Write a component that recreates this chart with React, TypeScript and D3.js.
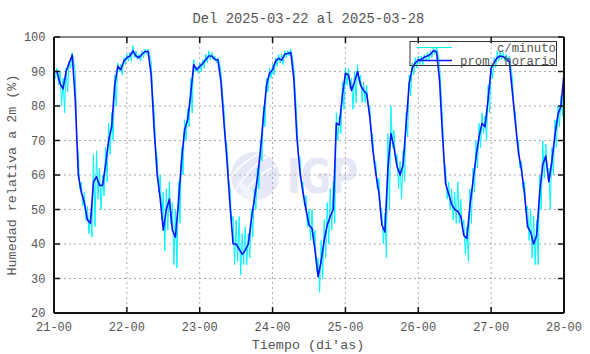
import { useRef, useEffect } from "react";
import * as d3 from "d3";

// promedio horario (%), una lista por dia, 24 valores cada una
const prom21 = [90,90,86.5,85,90,92.5,94.8,82,60,55,52,47,46,58,59.5,57,57,63,70,74,86,91.5,90.5,93];
const prom22 = [94,94.5,96,94.5,94,95,95.8,95.8,89,73,60,53,44,50,53,44,42,52,64,73,76,83,92,90.5];
const prom23 = [91.5,92.3,93.5,94.5,94.5,93.5,93.3,87,75,64,51,40,40,38.5,37,38.2,40,47,53,59,67,77,86,89.5];
const prom24 = [90.5,93,93.8,93.3,95,95.2,95.5,88,71,61,55,50,45.5,44.5,38,30.5,35,41,45.5,48,50,75,74.5,83];
const prom25 = [89.5,89,84.5,87,90,86,84.5,83.5,77,67.6,60.5,55,45.5,43.5,62,72,68,62.5,60,63,75,86.5,91,92.5];
const prom26 = [93.3,93.5,94.2,94.5,95,96,95.8,87.5,71,57.5,54.5,51.5,50,49.5,48,42.5,41.6,51,58,65,71,75,74,82];
const prom27 = [91,92.6,94,94.5,94.3,93.6,92.8,84,75,66.5,61.4,54.5,45,43.5,40,42.5,55,63,65.5,58,64,71.5,77.5,80];
const prom28 = [89.5];

// datos por minuto: maximo y minimo de cada hora (%)
const maxMin21 = [91,91,90,88,91,93,95.5,90,66,58,55,51,49,66,67,62,60,68,75,78,89,92.5,92,94];
const minMin21 = [88,86,80,78,84,91,93,70,56,51,47,43,42,45,53,50,54,58,66,70,80,90,89,92];
const maxMin22 = [95,95.5,97.5,96,95,96,96.5,96.5,93,78,65,60,55,56,58,52,50,58,68,76,79,88,93.5,91.5];
const minMin22 = [93,93,94,93.5,93,94,95,95,84,68,55,47,38,44,46,34,33,46,60,70,74,78,90,89.5];
const maxMin23 = [92.5,93.5,95,96,95.5,94.5,94,90,79,68,56,48,47,48,43,45,43,50,56,62,70,80,88,91];
const minMin23 = [90,91,92.5,93.5,93.5,92.5,92.5,84,71,59,46,34,35,31,34,34,36,42,50,56,64,74,84,88];
const maxMin24 = [92,94,95,95,96,96,96.5,91,76,65,58,54,50,50,44,36,41,47,52,56,58,78,77,87];
const minMin24 = [89,91.5,92.5,92,94,94.5,94.5,84,66,57,51,45,41,40,32,26,30,36,40,44,46,70,72,79];
const maxMin25 = [91,91,88,90,92,89,87,86,80,71,64,59,50,49,72,80,73,66,64,67,78,89,92.5,94];
const minMin25 = [86,85,79,81,87,81,81,80,73,63,56,51,40,36,50,68,64,56,53,58,71,83,89,91];
const maxMin26 = [94.5,94.5,95,95.5,96,97,97,92,76,62,58,56,55,58,53,47,45,56,62,70,75,78,77,86];
const minMin26 = [92,92,93,93.5,94,95,95,84,64,53,50,47,46,46,44,37,35,46,55,62,68,72,70,78];
const maxMin27 = [92,94,96,96,95.5,95,94.5,88,78,70,64,58,51,50,48,47,60,70,69,62,68,76,80,83];
const minMin27 = [88,91,93,93.5,93,93,91.5,80,70,62,56,49,41,36,34,34,50,59,61,50,60,68,74,77];
const maxMin28 = [91];
const minMin28 = [88];

const dayLabels = ["21-00","22-00","23-00","24-00","25-00","26-00","27-00","28-00"];
const yTicks = [20,30,40,50,60,70,80,90,100];

const FONT = "'Liberation Mono', 'DejaVu Sans Mono', monospace";
const TXT = "#555";

export default function App() {
  const svgRef = useRef(null);

  useEffect(() => {
    const svg = d3.select(svgRef.current);
    svg.selectAll("*").remove();

    const W = 590, H = 354;
    const left = 54, right = 564, top = 37, bottom = 313;

    const prom = [...prom21, ...prom22, ...prom23, ...prom24, ...prom25, ...prom26, ...prom27, ...prom28];
    const hi = [...maxMin21, ...maxMin22, ...maxMin23, ...maxMin24, ...maxMin25, ...maxMin26, ...maxMin27, ...maxMin28];
    const lo = [...minMin21, ...minMin22, ...minMin23, ...minMin24, ...minMin25, ...minMin26, ...minMin27, ...minMin28];

    const x = d3.scaleLinear().domain([0, 168]).range([left, right]);
    const y = d3.scaleLinear().domain([20, 100]).range([bottom, top]);

    svg.attr("viewBox", [0, 0, W, H]).attr("width", W).attr("height", H);

    svg.append("rect").attr("width", W).attr("height", H).attr("fill", "#fff");

    // marca de agua
    const wm = svg.append("g").attr("opacity", 0.85);
    wm.append("circle").attr("cx", 255).attr("cy", 176).attr("r", 24).attr("fill", "#e2e4f6");
    wm.append("path").attr("d", "M236 190 Q248 168 268 156").attr("stroke", "#fff").attr("stroke-width", 1.5).attr("fill", "none");
    wm.append("path").attr("d", "M242 196 Q256 174 276 166").attr("stroke", "#fff").attr("stroke-width", 1.5).attr("fill", "none");
    wm.append("path").attr("d", "M232 176 Q246 158 262 153").attr("stroke", "#fff").attr("stroke-width", 1.5).attr("fill", "none");
    wm.append("path").attr("d", "M236 180 Q250 186 258 199 L246 198 Z").attr("fill", "#eef3fd");
    wm.append("text").attr("x", 287).attr("y", 193)
      .attr("font-family", "'DejaVu Sans', sans-serif").attr("font-weight", "bold")
      .attr("font-size", 48).attr("textLength", 71).attr("lengthAdjust", "spacingAndGlyphs")
      .attr("fill", "#e2e4f6").text("IGP");

    // rejilla
    const grid = svg.append("g").attr("stroke", "#aaa").attr("stroke-dasharray", "2,3").attr("stroke-width", 1);
    yTicks.slice(1, -1).forEach((v) => {
      grid.append("line").attr("x1", left).attr("x2", right).attr("y1", y(v)).attr("y2", y(v));
    });
    dayLabels.slice(1, -1).forEach((d, i) => {
      const xv = x((i + 1) * 24);
      grid.append("line").attr("x1", xv).attr("x2", xv).attr("y1", top).attr("y2", bottom);
    });

    // serie por minuto
    const minutePts: [number, number][] = [];
    hi.forEach((v, i) => {
      minutePts.push([i, v]);
      if (i < lo.length && i < 168) minutePts.push([i + 0.5, lo[i]]);
    });
    const line = d3.line<[number, number]>().x((d) => x(d[0])).y((d) => y(d[1]));
    svg.append("path").attr("d", line(minutePts)).attr("fill", "none")
      .attr("stroke", "#00f4ff").attr("stroke-width", 1);

    // promedio horario
    const hourPts: [number, number][] = prom.map((v, i) => [i, v]);
    svg.append("path").attr("d", line(hourPts)).attr("fill", "none")
      .attr("stroke", "#0a14ff").attr("stroke-width", 1.6).attr("stroke-linejoin", "round");

    // marco y ticks
    const frame = svg.append("g").attr("stroke", "#111");
    frame.append("line").attr("x1", left).attr("x2", right).attr("y1", top).attr("y2", top).attr("stroke-width", 1);
    frame.append("line").attr("x1", left).attr("x2", right).attr("y1", bottom).attr("y2", bottom).attr("stroke-width", 2);
    frame.append("line").attr("x1", left).attr("x2", left).attr("y1", top).attr("y2", bottom).attr("stroke-width", 2);
    frame.append("line").attr("x1", right).attr("x2", right).attr("y1", top).attr("y2", bottom).attr("stroke-width", 2);

    yTicks.forEach((v) => {
      frame.append("line").attr("x1", left).attr("x2", left + 6).attr("y1", y(v)).attr("y2", y(v)).attr("stroke-width", 1.5);
      frame.append("line").attr("x1", right - 6).attr("x2", right).attr("y1", y(v)).attr("y2", y(v)).attr("stroke-width", 1.5);
      svg.append("text").attr("x", 45.5).attr("y", y(v) + 4).attr("text-anchor", "end")
        .attr("font-family", FONT).attr("font-size", 12).attr("fill", TXT).text(v);
    });
    dayLabels.forEach((d, i) => {
      const xv = x(i * 24);
      frame.append("line").attr("x1", xv).attr("x2", xv).attr("y1", bottom).attr("y2", bottom - 6).attr("stroke-width", 1.5);
      frame.append("line").attr("x1", xv).attr("x2", xv).attr("y1", top).attr("y2", top + 6).attr("stroke-width", 1.5);
      svg.append("text").attr("x", xv).attr("y", 331).attr("text-anchor", "middle")
        .attr("font-family", FONT).attr("font-size", 12).attr("fill", TXT).text(d);
    });

    // titulos
    svg.append("text").attr("x", 308.5).attr("y", 22.5).attr("text-anchor", "middle")
      .attr("font-family", FONT).attr("font-size", 13.8).attr("fill", TXT)
      .text("Del 2025-03-22 al 2025-03-28");
    svg.append("text").attr("x", 308).attr("y", 349).attr("text-anchor", "middle")
      .attr("font-family", FONT).attr("font-size", 13.4).attr("fill", TXT)
      .text("Tiempo (di'as)");
    svg.append("text").attr("transform", "translate(16,175) rotate(-90)").attr("text-anchor", "middle")
      .attr("font-family", FONT).attr("font-size", 13.4).attr("fill", TXT)
      .text("Humedad relativa a 2m (%)");

    // leyenda
    const lg = svg.append("g");
    lg.append("rect").attr("x", 410).attr("y", 41.5).attr("width", 146.5).attr("height", 24)
      .attr("fill", "none").attr("stroke", "#333").attr("stroke-width", 1);
    lg.append("line").attr("x1", 417).attr("x2", 452).attr("y1", 47.5).attr("y2", 47.5)
      .attr("stroke", "#00f4ff").attr("stroke-width", 1);
    lg.append("line").attr("x1", 417).attr("x2", 452).attr("y1", 60.5).attr("y2", 60.5)
      .attr("stroke", "#0a14ff").attr("stroke-width", 1.6);
    lg.append("text").attr("x", 556).attr("y", 52).attr("text-anchor", "end")
      .attr("font-family", FONT).attr("font-size", 12.3).attr("fill", TXT).text("c/minuto");
    lg.append("text").attr("x", 556).attr("y", 64.5).attr("text-anchor", "end")
      .attr("font-family", FONT).attr("font-size", 12.3).attr("fill", TXT).text("prom. horario");
  }, []);

  return (
    <svg ref={svgRef} style={{ position: "absolute", left: 0, top: 0, display: "block" }}></svg>
  );
}
